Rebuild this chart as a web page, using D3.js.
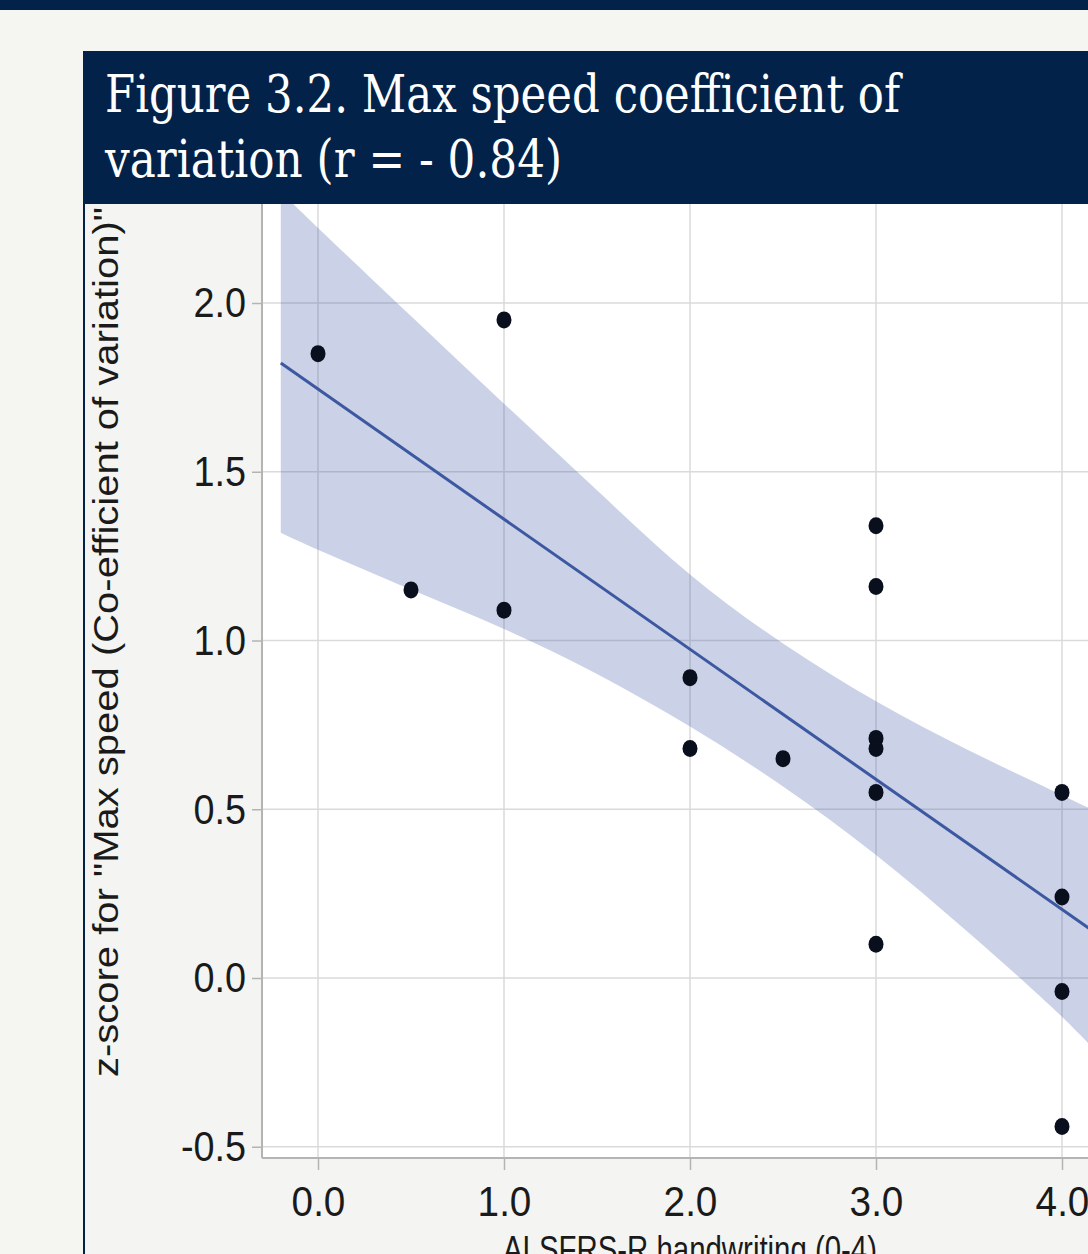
<!DOCTYPE html>
<html>
<head>
<meta charset="utf-8">
<script src="https://cdn.jsdelivr.net/npm/d3@7"></script>
<style>
  html, body { margin: 0; padding: 0; background: #f5f6f1; }
  svg { display: block; }
</style>
</head>
<body>
<svg id="chart" width="1088" height="1254"></svg>
<script>
// observed points: ALSFRS-R handwriting score vs z-score
const scoreX = [0, 0.5, 1, 1, 2, 2, 2.5, 3, 3, 3, 3, 3, 3, 4, 4, 4, 4];
const zScore = [1.85, 1.15, 1.95, 1.09, 0.89, 0.68, 0.65, 1.34, 1.16, 0.71, 0.68, 0.55, 0.10, 0.55, 0.24, -0.04, -0.44];

// fitted line end points
const fitX = [-0.2, 4.2];
const fitY = [1.822, 0.126];

// confidence band
const bandX  = [-0.2, 0, 0.5, 1, 1.5, 2, 2.5, 3, 3.5, 4, 4.2];
const bandHi = [2.329, 2.222, 1.961, 1.701, 1.446, 1.185, 0.987, 0.815, 0.672, 0.542, 0.489];
const bandLo = [1.319, 1.268, 1.150, 1.037, 0.905, 0.748, 0.572, 0.370, 0.135, -0.110, -0.228];

const xTicks = [0, 1, 2, 3, 4];
const yTicks = [-0.5, 0, 0.5, 1, 1.5, 2];

const titleLines = ["Figure 3.2. Max speed coefficient of", "variation (r = - 0.84)"];
const xLabel = "ALSFRS-R handwriting (0-4)";
const yLabel = "z-score for \"Max speed (Co-efficient of variation)\"";

const W = 1088, H = 1254;
const svg = d3.select("#chart");

const navy = "#02224a";
const panel = { left: 262, right: 1088, top: 204, bottom: 1158 };

const x = d3.scaleLinear().domain([0, 4]).range([318, 1062]);
const y = d3.scaleLinear().domain([0, 2]).range([978, 303]);

// plain hyphen for negatives, like the original
const fmt = d => d.toFixed(1);

// page chrome
svg.append("rect").attr("width", W).attr("height", H).attr("fill", "#f5f6f1");
svg.append("rect").attr("width", W).attr("height", 10).attr("fill", navy);
// card background (grey around the plot)
svg.append("rect")
    .attr("x", 84).attr("y", 51).attr("width", W - 84).attr("height", H - 51)
    .attr("fill", "#f4f4f2");
svg.append("line")
    .attr("x1", 84).attr("x2", 84).attr("y1", 51).attr("y2", H)
    .attr("stroke", navy).attr("stroke-width", 2);

// white plotting panel
svg.append("rect")
    .attr("x", panel.left).attr("y", panel.top)
    .attr("width", panel.right - panel.left).attr("height", panel.bottom - panel.top)
    .attr("fill", "#ffffff");

svg.append("clipPath").attr("id", "clip")
  .append("rect")
    .attr("x", panel.left).attr("y", panel.top)
    .attr("width", panel.right - panel.left).attr("height", panel.bottom - panel.top);

// grid
const grid = svg.append("g").attr("stroke", "#dadada").attr("stroke-width", 1.5);
grid.selectAll(".gx").data(xTicks).enter().append("line")
    .attr("x1", d => x(d)).attr("x2", d => x(d))
    .attr("y1", panel.top).attr("y2", panel.bottom);
grid.selectAll(".gy").data(yTicks).enter().append("line")
    .attr("x1", panel.left).attr("x2", panel.right)
    .attr("y1", d => y(d)).attr("y2", d => y(d));

const plot = svg.append("g").attr("clip-path", "url(#clip)");

// confidence band
const bandData = bandX.map((v, i) => ({ x: v, lo: bandLo[i], hi: bandHi[i] }));
plot.append("path")
    .datum(bandData)
    .attr("fill", "#3d5aa5")
    .attr("fill-opacity", 0.27)
    .attr("d", d3.area()
        .x(d => x(d.x))
        .y0(d => y(d.lo))
        .y1(d => y(d.hi))
        .curve(d3.curveBasis));

// fit line
plot.append("path")
    .datum(fitX.map((v, i) => [v, fitY[i]]))
    .attr("fill", "none")
    .attr("stroke", "#3b58a0")
    .attr("stroke-width", 3)
    .attr("d", d3.line().x(d => x(d[0])).y(d => y(d[1])));

// points
plot.selectAll(".pt").data(scoreX.map((v, i) => [v, zScore[i]])).enter()
  .append("ellipse")
    .attr("cx", d => x(d[0]))
    .attr("cy", d => y(d[1]))
    .attr("rx", 7.5).attr("ry", 8.5)
    .attr("fill", "#0a0f1e");

// axis lines
svg.append("line")
    .attr("x1", panel.left).attr("x2", panel.left)
    .attr("y1", panel.top).attr("y2", panel.bottom)
    .attr("stroke", "#b4b4b4").attr("stroke-width", 2);
svg.append("line")
    .attr("x1", panel.left).attr("x2", panel.right)
    .attr("y1", panel.bottom).attr("y2", panel.bottom)
    .attr("stroke", "#b4b4b4").attr("stroke-width", 2);

const squeeze = 0.9;

// y axis
const yAxis = svg.append("g")
    .attr("transform", `translate(${panel.left},0)`)
    .call(d3.axisLeft(y).tickValues(yTicks).tickSize(10).tickPadding(6)
        .tickFormat(fmt));
yAxis.select(".domain").remove();
yAxis.selectAll(".tick line").attr("stroke", "#b4b4b4").attr("stroke-width", 1.5);
yAxis.selectAll(".tick text")
    .attr("font-family", "'Liberation Sans', Arial, sans-serif")
    .attr("font-size", 42)
    .attr("fill", "#1a1a1a")
    .attr("x", -16 / squeeze)
    .attr("dy", "0.33em")
    .attr("transform", `scale(${squeeze},1)`);

// x axis
const xAxis = svg.append("g")
    .attr("transform", `translate(0,${panel.bottom})`)
    .call(d3.axisBottom(x).tickValues(xTicks).tickSize(12)
        .tickFormat(fmt));
xAxis.select(".domain").remove();
xAxis.selectAll(".tick line").attr("stroke", "#b4b4b4").attr("stroke-width", 1.5);
xAxis.selectAll(".tick text")
    .attr("font-family", "'Liberation Sans', Arial, sans-serif")
    .attr("font-size", 43)
    .attr("fill", "#1a1a1a")
    .attr("y", 58)
    .attr("dy", null)
    .attr("transform", `scale(${squeeze},1)`);

// axis titles
svg.append("text")
    .attr("transform", "translate(118,642) rotate(-90)")
    .attr("text-anchor", "middle")
    .attr("font-family", "'Liberation Sans', Arial, sans-serif")
    .attr("font-size", 35)
    .attr("fill", "#1a1a1a")
    .attr("textLength", 870)
    .attr("lengthAdjust", "spacingAndGlyphs")
    .text(yLabel);

// the original slide crops this label at the bottom edge
svg.append("text")
    .attr("x", 690).attr("y", 1262)
    .attr("text-anchor", "middle")
    .attr("font-family", "'Liberation Sans', Arial, sans-serif")
    .attr("font-size", 36)
    .attr("fill", "#1a1a1a")
    .attr("textLength", 374)
    .attr("lengthAdjust", "spacingAndGlyphs")
    .text(xLabel);

// title box
svg.append("rect")
    .attr("x", 83).attr("y", 51).attr("width", W - 83).attr("height", 153)
    .attr("fill", navy);
const titleLen = [795, 457];
svg.selectAll(".title").data(titleLines).enter().append("text")
    .attr("x", 105)
    .attr("y", (d, i) => 112 + i * 65)
    .attr("font-family", "'DejaVu Serif', 'Liberation Serif', serif")
    .attr("font-size", 52)
    .attr("fill", "#ffffff")
    .attr("textLength", (d, i) => titleLen[i])
    .attr("lengthAdjust", "spacingAndGlyphs")
    .text(d => d);
</script>
</body>
</html>
